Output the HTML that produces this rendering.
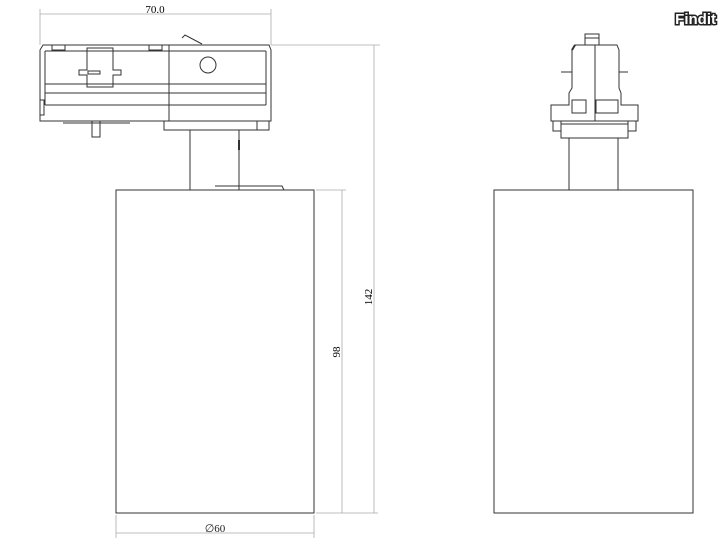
<!DOCTYPE html>
<html><head><style>body{margin:0;background:#fff}svg{display:block}</style></head><body>
<svg width="728" height="546" viewBox="0 0 728 546" xmlns="http://www.w3.org/2000/svg" font-family="Liberation Serif, serif">
<g fill="none" stroke="#aaa" stroke-width="0.8">
<line x1="40" y1="14" x2="271" y2="14"/><line x1="40" y1="9" x2="40" y2="45"/><line x1="271" y1="9" x2="271" y2="45"/>
<line x1="271" y1="45" x2="380" y2="45"/>
<line x1="374" y1="45" x2="374" y2="513"/>
<line x1="342" y1="190" x2="342" y2="513"/>
<line x1="316" y1="190" x2="346" y2="190"/>
<line x1="316" y1="513" x2="378" y2="513"/>
<line x1="116" y1="533" x2="314" y2="533"/><line x1="116" y1="515" x2="116" y2="538"/><line x1="314" y1="515" x2="314" y2="538"/>
</g>
<text x="155" y="13" font-size="11" text-anchor="middle">70.0</text>
<text x="215" y="532" font-size="11" text-anchor="middle" fill="#222">∅60</text>
<text transform="translate(340,352) rotate(-90)" font-size="11" text-anchor="middle">98</text>
<text transform="translate(372,297) rotate(-90)" font-size="11" text-anchor="middle">142</text>
<g fill="none" stroke="#333" stroke-width="1">
<rect x="116" y="190" width="198" height="323"/>
<rect x="494" y="190" width="199" height="323"/>
<path d="M40,121 L40,50 L43,45 L269,45 L271,50 L271,121 Z"/>
<line x1="169" y1="45" x2="169" y2="121"/>
<line x1="45" y1="51" x2="266" y2="51"/>
<line x1="45" y1="84" x2="266" y2="84"/>
<line x1="45" y1="93" x2="266" y2="93"/>
<line x1="45" y1="105" x2="266" y2="105"/>
<line x1="45" y1="51" x2="45" y2="105"/><line x1="266" y1="51" x2="266" y2="105"/>
<rect x="52" y="45" width="13" height="5"/><rect x="149" y="45" width="13" height="5"/>
<path d="M87,48 H113 V70 H121 V75 H113 V87 H87 V75 H79 V70 H87 Z"/>
<rect x="88" y="71" width="12" height="3"/>
<circle cx="208" cy="65" r="8"/>
<path d="M182,38 L185,35 L202,44"/>
<rect x="40" y="100" width="4" height="15"/>
<rect x="164" y="121" width="105" height="9"/><line x1="257" y1="121" x2="257" y2="130"/>
<line x1="63" y1="123" x2="130" y2="123"/>
<rect x="92" y="121" width="8" height="16"/>
<line x1="190" y1="130" x2="190" y2="190"/><line x1="239" y1="130" x2="239" y2="190"/>
<line x1="239" y1="140" x2="239" y2="150" stroke-width="2"/>
<path d="M215,186 H282 L284,190"/>
<rect x="585" y="34" width="14" height="11"/>
<line x1="585" y1="38" x2="599" y2="38"/>
<path d="M575,45 H617 L619,50 V88 L621,93 V105 H638 V121 H551 V105 H569 V93 L572,88 V50 Z"/>
<line x1="572" y1="50" x2="575" y2="45" stroke-width="2"/>
<line x1="595" y1="45" x2="595" y2="121"/>
<line x1="561" y1="72" x2="572" y2="72"/><line x1="619" y1="72" x2="628" y2="72"/>
<rect x="572" y="100" width="14" height="13"/><rect x="596" y="100" width="22" height="13"/>
<rect x="553" y="121" width="8" height="10"/><rect x="628" y="121" width="8" height="10"/>
<rect x="561" y="121" width="67" height="17"/><line x1="561" y1="124" x2="628" y2="124"/>
<line x1="569" y1="138" x2="569" y2="190"/><line x1="618" y1="138" x2="618" y2="190"/>
</g>
<text x="716" y="24" font-family="Liberation Sans, sans-serif" font-weight="bold" font-size="15" text-anchor="end" fill="#fff" stroke="#222" stroke-width="3" paint-order="stroke">Findit</text>
</svg>
</body></html>
